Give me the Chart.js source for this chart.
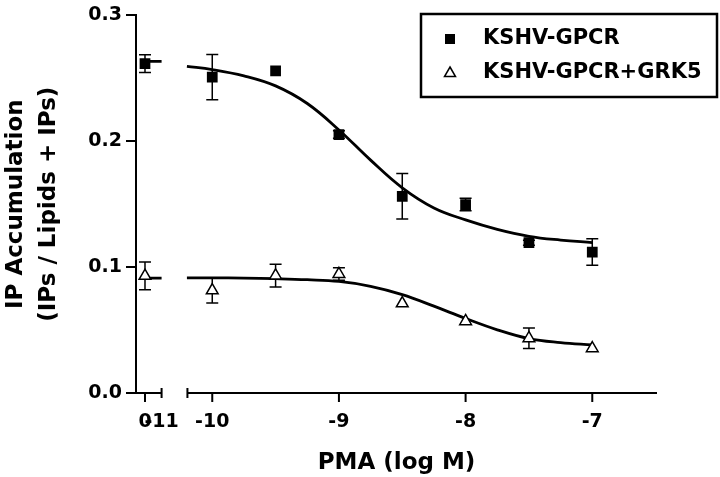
<!DOCTYPE html>
<html>
<head>
<meta charset="utf-8">
<script src="https://cdn.jsdelivr.net/npm/chart.js@4.4.1/dist/chart.umd.min.js"></script>
<style>
  html, body { margin: 0; padding: 0; background: #fff; }
  #wrap { width: 720px; height: 477px; }
</style>
</head>
<body>
<div id="wrap"><canvas id="ipChart"></canvas></div>
<script>
// PMA concentrations (log M)
const logPma = [-10, -9.5, -9, -8.5, -8, -7.5, -7];

// KSHV-GPCR (filled squares) mean and error
const gpcr = [0.251, 0.256, 0.2053, 0.1563, 0.1497, 0.1194, 0.112];
const gpcrErr = [0.018, 0, 0.003, 0.018, 0.005, 0.002, 0.0105];
// KSHV-GPCR+GRK5 (open triangles)
const grk5 = [0.0815, 0.0933, 0.0945, 0.0712, 0.057, 0.0435, 0.0355];
const grk5Err = [0.0099, 0.009, 0.005, 0, 0, 0.0082, 0];

// control without PMA, shown on the short piece of the broken axis
const gpcrCtrl = 0.2617;
const gpcrCtrlErr = 0.007;
const grk5Ctrl = 0.093;
const grk5CtrlErr = 0.011;

// fitted curves
const fitX = [-10.2, -10, -9.75, -9.5, -9.25, -9, -8.75, -8.5, -8.25, -8, -7.75, -7.5, -7.25, -7];
const fitGpcr = [0.2595, 0.257, 0.252, 0.244, 0.230, 0.209, 0.185, 0.163, 0.147, 0.1375, 0.130, 0.1245, 0.1215, 0.1195];
const fitGrk5 = [0.0915, 0.0915, 0.0913, 0.0908, 0.0900, 0.0886, 0.0848, 0.0782, 0.0690, 0.0592, 0.0502, 0.0432, 0.0400, 0.0382];
const ctrlFitGpcr = 0.2634;
const ctrlFitGrk5 = 0.0912;

const seriesNames = ['KSHV-GPCR', 'KSHV-GPCR+GRK5'];
const xTicks = [-10, -9, -8, -7];
const yTicks = [0, 0.1, 0.2, 0.3];

// where the axis break sits (in log M units of the drawn axis)
const ctrlPos = -10.531;
const ctrlSegEnd = -10.40;
const mainSegStart = -10.196;

const fontFamily = "'DejaVu Sans', sans-serif";
Chart.defaults.font.family = fontFamily;
Chart.defaults.color = '#000';

const pts = (xs, ys) => xs.map((x, i) => ({ x: x, y: ys[i] }));

// error bars drawn under the markers
const errorBars = {
  id: 'errorBars',
  beforeDatasetsDraw(chart) {
    const { ctx, scales: { x, y } } = chart;
    ctx.save();
    ctx.strokeStyle = '#000';
    ctx.lineWidth = 1.5;
    chart.data.datasets.forEach(ds => {
      if (!ds.errors) return;
      ds.data.forEach((p, i) => {
        const e = ds.errors[i];
        if (!e) return;
        const px = x.getPixelForValue(p.x);
        const top = y.getPixelForValue(p.y + e);
        const bot = y.getPixelForValue(p.y - e);
        ctx.beginPath();
        ctx.moveTo(px, top); ctx.lineTo(px, bot);
        ctx.moveTo(px - 6, top); ctx.lineTo(px + 6, top);
        ctx.moveTo(px - 6, bot); ctx.lineTo(px + 6, bot);
        ctx.stroke();
      });
    });
    ctx.restore();
  }
};

// x axis with a break between the control and the PMA doses
const brokenAxis = {
  id: 'brokenAxis',
  beforeDatasetsDraw(chart) {
    const { ctx, chartArea, scales: { x } } = chart;
    const y0 = chartArea.bottom;
    const px = v => x.getPixelForValue(v);
    ctx.save();
    ctx.strokeStyle = '#000';
    ctx.lineWidth = 2;
    ctx.beginPath();
    ctx.moveTo(chartArea.left, y0); ctx.lineTo(px(ctrlSegEnd), y0);
    ctx.moveTo(px(ctrlSegEnd), y0 - 5); ctx.lineTo(px(ctrlSegEnd), y0 + 5);
    ctx.moveTo(px(mainSegStart), y0); ctx.lineTo(chartArea.right, y0);
    ctx.moveTo(px(mainSegStart), y0 - 5); ctx.lineTo(px(mainSegStart), y0 + 5);
    [ctrlPos, ...xTicks].forEach(v => {
      ctx.moveTo(px(v), y0); ctx.lineTo(px(v), y0 + 9);
    });
    ctx.stroke();
    ctx.restore();
  }
};

// boxed legend in the top right corner
const boxLegend = {
  id: 'boxLegend',
  afterDraw(chart) {
    const ctx = chart.ctx;
    const left = 421, top = 14, w = 296, h = 83;
    ctx.save();
    ctx.strokeStyle = '#000';
    ctx.lineWidth = 2.5;
    ctx.strokeRect(left, top, w, h);
    ctx.font = 'bold 21px ' + fontFamily;
    ctx.textBaseline = 'middle';
    ctx.fillStyle = '#000';
    seriesNames.forEach((name, i) => {
      const cy = top + 25 + i * 33.5;
      const mx = 450;
      if (i === 0) {
        ctx.fillRect(mx - 5, cy - 5, 10, 10);
      } else {
        ctx.beginPath();
        ctx.moveTo(mx, cy - 5.5);
        ctx.lineTo(mx + 5.5, cy + 4);
        ctx.lineTo(mx - 5.5, cy + 4);
        ctx.closePath();
        ctx.fillStyle = '#fff';
        ctx.fill();
        ctx.lineWidth = 1.5;
        ctx.stroke();
        ctx.fillStyle = '#000';
      }
      ctx.fillText(name, 483, cy);
    });
    ctx.restore();
  }
};

const lineStyle = {
  showLine: true,
  borderColor: '#000',
  borderWidth: 2.8,
  pointRadius: 0,
  tension: 0.4,
  order: 1
};

new Chart(document.getElementById('ipChart'), {
  type: 'scatter',
  data: {
    datasets: [
      {
        label: seriesNames[0],
        data: [{ x: ctrlPos, y: gpcrCtrl }, ...pts(logPma, gpcr)],
        errors: [gpcrCtrlErr, ...gpcrErr],
        pointStyle: 'rect',
        pointRadius: 7.6,
        backgroundColor: '#000',
        borderWidth: 0,
        order: 0
      },
      {
        label: seriesNames[1],
        data: [{ x: ctrlPos, y: grk5Ctrl }, ...pts(logPma, grk5)],
        errors: [grk5CtrlErr, ...grk5Err],
        pointStyle: 'triangle',
        pointRadius: 6.8,
        backgroundColor: '#fff',
        borderColor: '#000',
        borderWidth: 1.5,
        order: 0
      },
      Object.assign({ data: pts(fitX, fitGpcr) }, lineStyle),
      Object.assign({ data: pts(fitX, fitGrk5) }, lineStyle),
      Object.assign({ data: [{ x: ctrlPos, y: ctrlFitGpcr }, { x: ctrlSegEnd, y: ctrlFitGpcr }] }, lineStyle),
      Object.assign({ data: [{ x: ctrlPos, y: ctrlFitGrk5 }, { x: ctrlSegEnd, y: ctrlFitGrk5 }] }, lineStyle)
    ]
  },
  options: {
    responsive: true,
    maintainAspectRatio: false,
    animation: false,
    layout: { padding: { top: 13, right: 63, left: 0, bottom: 0 } },
    plugins: {
      legend: { display: false },
      tooltip: { enabled: false }
    },
    scales: {
      x: {
        type: 'linear',
        min: -10.602,
        max: -6.489,
        border: { display: false },
        grid: { display: false, drawTicks: false, tickLength: 0 },
        afterBuildTicks: scale => {
          scale.ticks = [ctrlPos, ctrlSegEnd, ...xTicks].map(v => ({ value: v }));
        },
        afterFit: scale => { scale.height = 84; },
        ticks: {
          autoSkip: false,
          maxRotation: 0,
          padding: 18,
          font: { size: 19, weight: 'bold' },
          callback: v => {
            if (v === ctrlPos) return '0';
            if (v === ctrlSegEnd) return '-11';
            return String(v);
          }
        },
        title: {
          display: true,
          text: 'PMA (log M)',
          padding: { top: 0, bottom: 0 },
          font: { size: 23, weight: 'bold', lineHeight: 1.2 }
        }
      },
      y: {
        min: 0,
        max: 0.3,
        border: { color: '#000', width: 2 },
        grid: { drawOnChartArea: false, color: '#000', lineWidth: 2, tickLength: 10 },
        afterBuildTicks: scale => {
          scale.ticks = yTicks.map(v => ({ value: v }));
        },
        afterFit: scale => { scale.width = 136; },
        ticks: {
          padding: 4,
          font: { size: 19, weight: 'bold' },
          callback: v => v.toFixed(1)
        },
        title: {
          display: true,
          text: ['IP Accumulation', '(IPs / Lipids + IPs)'],
          padding: { top: 0, bottom: 0 },
          font: { size: 23, weight: 'bold', lineHeight: 1.43 }
        }
      }
    }
  },
  plugins: [brokenAxis, errorBars, boxLegend]
});
</script>
</body>
</html>
